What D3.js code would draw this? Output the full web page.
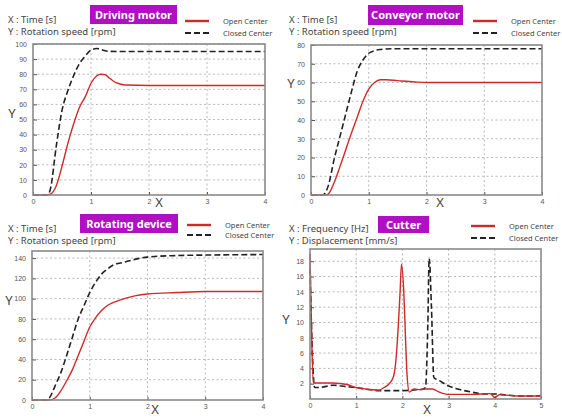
<!DOCTYPE html>
<html>
<head>
<meta charset="utf-8">
<script src="https://cdn.jsdelivr.net/npm/d3@7"></script>
<style>
  body { margin: 0; background: #fff; }
  svg { font-family: "Noto Sans", "Open Sans", sans-serif; }
</style>
</head>
<body>
<svg width="562" height="418"></svg>
<script>
// ---- data ----
const titles = ['Driving motor', 'Conveyor motor', 'Rotating device', 'Cutter'];
const xLabels = ['X : Time [s]', 'X : Time [s]', 'X : Time [s]', 'X : Frequency [Hz]'];
const yLabels = ['Y : Rotation speed [rpm]', 'Y : Rotation speed [rpm]', 'Y : Rotation speed [rpm]', 'Y : Displacement [mm/s]'];
const seriesNames = ['Open Center', 'Closed Center'];

const driveOpen = [[0,0],[0.25,0],[0.3,0.5],[0.4,6],[0.5,19],[0.6,34],[0.7,47],[0.8,58],[0.9,65],[1.0,74],[1.1,79],[1.17,80],[1.25,79.5],[1.3,78],[1.4,75],[1.5,73.5],[1.6,72.8],[2,72.5],[3,72.5],[4,72.5]];
const driveClosed = [[0,0],[0.25,0],[0.3,4],[0.4,32],[0.5,56],[0.6,69],[0.7,79],[0.8,87],[0.9,92],[1.0,96],[1.1,97],[1.2,96],[1.3,95.2],[1.5,95],[2,95],[3,95],[4,95]];

const convOpen = [[0,0],[0.25,0],[0.3,0.5],[0.4,6.5],[0.5,15],[0.6,24],[0.7,33],[0.8,41.5],[0.9,50],[1.0,56.5],[1.1,60],[1.2,61.5],[1.3,61.5],[1.5,61],[1.8,60.3],[2,60],[3,60],[4,60]];
const convClosed = [[0,0],[0.2,0],[0.3,5],[0.4,19],[0.5,31],[0.6,43],[0.7,55],[0.8,66],[0.9,72],[1.0,75.6],[1.1,77],[1.2,77.6],[1.4,78],[2,78],[3,78],[4,78]];

const rotOpen = [[0,0],[0.3,0],[0.4,2],[0.5,9],[0.6,19],[0.7,30],[0.8,44],[0.9,58],[1.0,72],[1.1,81],[1.2,88],[1.3,93],[1.4,96],[1.6,100],[1.8,103],[2,104.6],[2.5,106],[3,107],[4,107]];
const rotClosed = [[0,0],[0.25,0],[0.3,2],[0.4,14],[0.5,27],[0.6,44],[0.7,62],[0.8,80],[0.9,93],[1.0,106],[1.1,116],[1.2,124],[1.3,129],[1.4,133],[1.6,136],[1.8,139],[2,141],[2.5,142.5],[3,143],[4,143.5]];

const cutOpen = [[0,19],[0.03,10],[0.07,2.1],[0.3,2.1],[0.5,2.1],[0.8,1.9],[1.0,1.5],[1.2,1.3],[1.5,1.15],[1.6,1.5],[1.7,1.9],[1.8,2.8],[1.85,4.5],[1.9,8.4],[1.95,14],[1.98,17.6],[2.03,14],[2.07,7.5],[2.1,3.2],[2.15,0.9],[2.25,1.3],[2.4,1.2],[2.5,1.3],[2.65,1.3],[2.8,0.9],[3.0,0.6],[3.5,0.6],[3.9,0.7],[4.0,0.2],[4.1,0.55],[4.5,0.4],[5,0.4]];
const cutClosed = [[0,17],[0.04,8],[0.1,1.5],[0.2,1.5],[0.5,1.8],[0.8,1.6],[1.0,1.5],[1.2,1.3],[1.5,1.1],[2.0,1.1],[2.3,1.2],[2.45,1.3],[2.5,1.5],[2.55,9.7],[2.58,18.4],[2.63,11.8],[2.68,2.8],[2.8,2.4],[3.0,1.7],[3.2,1.3],[3.5,0.9],[3.8,0.65],[4.0,0.65],[4.5,0.4],[5,0.4]];

const xTicks = [[0,1,2,3,4],[0,1,2,3,4],[0,1,2,3,4],[0,1,2,3,4,5]];
const yTicks = [
  [0,10,20,30,40,50,60,70,80,90,100],
  [0,10,20,30,40,50,60,70,80],
  [0,20,40,60,80,100,120,140],
  [2,4,6,8,10,12,14,16,18]
];
const xDomains = [[0,4],[0,4],[0,4],[0,5]];
const yDomains = [[0,100],[0,80],[0,147],[0,19.6]];
const openSeries = [driveOpen, convOpen, rotOpen, cutOpen];
const closedSeries = [driveClosed, convClosed, rotClosed, cutClosed];

// ---- layout ----
const panels = [
  {l:33, r:265, t:44, b:195, ox:0, oy:0, titleBox:[90,5,87,19], yLab:[12,118], xLab:[159,207], legX:185, legY:[21,33]},
  {l:311, r:542, t:45, b:195, ox:281, oy:0, titleBox:[368,5,95,20], yLab:[291,88], xLab:[440,207], legX:473, legY:[21,33]},
  {l:32, r:263, t:251, b:400, ox:0, oy:209, titleBox:[80,214,98,19], yLab:[9,305], xLab:[155,414], legX:187, legY:[225,235]},
  {l:310, r:541, t:249, b:399, ox:281, oy:209, titleBox:[378,216,51,17], yLab:[286,324], xLab:[427,414], legX:471, legY:[226,238]}
];

const red = '#cf2a2a';
const dark = '#222';
const svg = d3.select('svg');

panels.forEach((p, i) => {
  const g = svg.append('g');
  const x = d3.scaleLinear().domain(xDomains[i]).range([p.l, p.r]);
  const y = d3.scaleLinear().domain(yDomains[i]).range([p.b, p.t]);

  // grid
  g.selectAll('.hg').data(yTicks[i].filter(v => v > yDomains[i][0])).enter().append('line')
    .attr('x1', p.l).attr('x2', p.r).attr('y1', d => y(d)).attr('y2', d => y(d))
    .attr('stroke', '#b8b8b8').attr('stroke-width', 1).attr('stroke-dasharray', '2,2.5');
  g.selectAll('.vg').data(xTicks[i].slice(1, -1)).enter().append('line')
    .attr('y1', p.t).attr('y2', p.b).attr('x1', d => x(d)).attr('x2', d => x(d))
    .attr('stroke', '#b8b8b8').attr('stroke-width', 1).attr('stroke-dasharray', '2,2.5');

  // axes
  const ya = d3.axisLeft(y).tickValues(yTicks[i]).tickFormat(d3.format('d')).tickSize(-4).tickPadding(6);
  const yg = g.append('g').attr('transform', `translate(${p.l},0)`).call(ya);
  const xa = d3.axisBottom(x).tickValues(xTicks[i]).tickFormat(d3.format('d')).tickSize(-3).tickPadding(4);
  const xg = g.append('g').attr('transform', `translate(0,${p.b})`).call(xa);
  [yg, xg].forEach(a => {
    a.select('.domain').remove();
    a.selectAll('.tick line').attr('stroke', '#555');
    a.selectAll('.tick text').attr('fill', '#555').style('font-size', '7px');
  });

  // curves
  const line = d3.line().x(d => x(d[0])).y(d => y(d[1])).curve(d3.curveMonotoneX);
  g.append('path').datum(closedSeries[i]).attr('d', line)
    .attr('fill', 'none').attr('stroke', dark).attr('stroke-width', 1.6).attr('stroke-dasharray', '6,3');
  g.append('path').datum(openSeries[i]).attr('d', line)
    .attr('fill', 'none').attr('stroke', red).attr('stroke-width', 1.4);

  // frame
  g.append('rect').attr('x', p.l).attr('y', p.t).attr('width', p.r - p.l).attr('height', p.b - p.t)
    .attr('fill', 'none').attr('stroke', '#8a8a8a').attr('stroke-width', 1.6);

  // header texts
  g.append('text').attr('x', p.ox + 8).attr('y', p.oy + 23).text(xLabels[i])
    .attr('fill', '#444').style('font-size', '9.5px');
  g.append('text').attr('x', p.ox + 8).attr('y', p.oy + 35).text(yLabels[i])
    .attr('fill', '#444').style('font-size', '9.5px');

  // title box
  const [bx, by, bw, bh] = p.titleBox;
  g.append('rect').attr('x', bx).attr('y', by).attr('width', bw).attr('height', bh).attr('fill', '#b10fc4');
  g.append('text').attr('x', bx + bw / 2).attr('y', by + bh / 2 + 4).attr('text-anchor', 'middle')
    .text(titles[i]).attr('fill', '#fff').style('font-size', '11px').style('font-weight', 'bold');

  // legend
  g.append('line').attr('x1', p.legX).attr('x2', p.legX + 24).attr('y1', p.legY[0]).attr('y2', p.legY[0])
    .attr('stroke', red).attr('stroke-width', 2.4);
  g.append('line').attr('x1', p.legX).attr('x2', p.legX + 24).attr('y1', p.legY[1]).attr('y2', p.legY[1])
    .attr('stroke', dark).attr('stroke-width', 2).attr('stroke-dasharray', '6,3');
  seriesNames.forEach((s, k) => {
    g.append('text').attr('x', p.legX + 38).attr('y', p.legY[k] + 3).text(s)
      .attr('fill', '#444').style('font-size', '7.5px');
  });

  // axis letters
  g.append('text').attr('x', p.yLab[0]).attr('y', p.yLab[1]).text('Y')
    .attr('text-anchor', 'middle').attr('fill', '#444').style('font-size', '13px');
  g.append('text').attr('x', p.xLab[0]).attr('y', p.xLab[1]).text('X')
    .attr('text-anchor', 'middle').attr('fill', '#444').style('font-size', '13px');
});
</script>
</body>
</html>
